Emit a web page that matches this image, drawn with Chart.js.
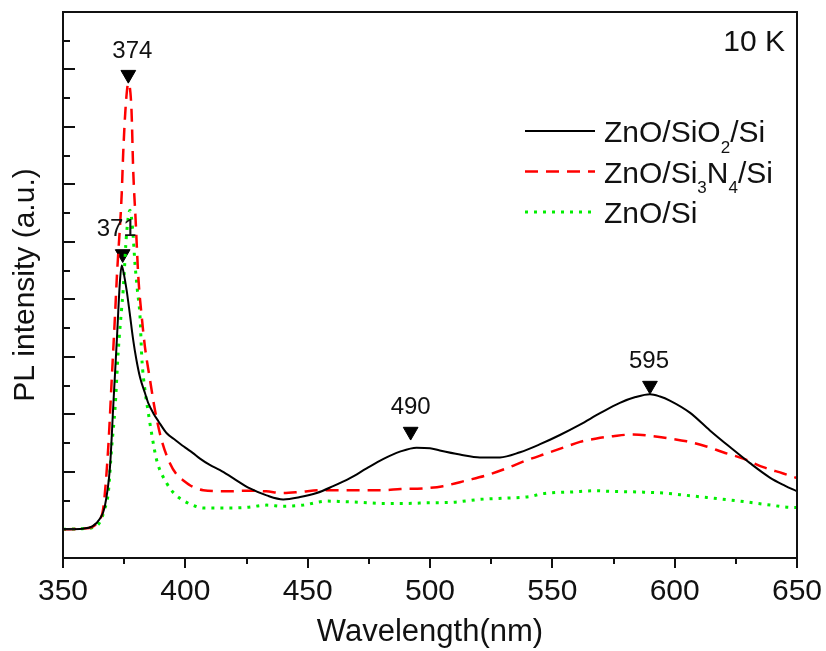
<!DOCTYPE html>
<html>
<head>
<meta charset="utf-8">
<title>PL spectra at 10 K</title>
<script src="https://cdn.jsdelivr.net/npm/chart.js@4.4.1/dist/chart.umd.min.js"></script>
<style>
    body { margin: 0; background: #fff; }
    #wrap { width: 826px; height: 651px; position: relative; }
</style>
</head>
<body>
<div id="wrap"><canvas id="plChart"></canvas></div>
<script>
// Axis ticks
const xTicks = [350, 400, 450, 500, 550, 600, 650];
const xTitle = 'Wavelength(nm)';
const yTitle = 'PL intensity (a.u.)';
const tempLabel = '10 K';

// Series names (subscripts as unicode)
const seriesNames = ['ZnO/SiO\u2082/Si', 'ZnO/Si\u2083N\u2084/Si', 'ZnO/Si'];

// ZnO/SiO2/Si
const wlSiO2 = [350, 358, 362, 365, 367, 369.2, 370.6, 372, 373.3, 374, 374.6, 376, 377.3, 378.7, 380, 381.5, 383.5, 385, 386.9, 389,
    392.4, 396, 400, 403, 406, 410, 414.2, 419.5, 426.4, 433.2, 440, 446.9, 453.7, 460.4, 467.3, 474.1, 480.8, 487.7, 494.5, 500,
    504, 512.2, 520.4, 528.6, 536.8, 545, 553.1, 561.3, 569.5, 577.6, 584, 589.9, 594, 598, 606.2, 614.4, 622.6, 630.8, 638.9, 645, 650];
const intSiO2 = [0.00, 0.01, 0.05, 0.18, 0.38, 1.08, 2.19, 3.29, 4.33, 4.59, 4.50, 4.16, 3.75, 3.29, 2.95, 2.64, 2.37, 2.18, 2.02, 1.88,
    1.67, 1.55, 1.42, 1.33, 1.23, 1.12, 1.03, 0.89, 0.71, 0.59, 0.52, 0.56, 0.63, 0.75, 0.89, 1.06, 1.22, 1.35, 1.42, 1.41,
    1.37, 1.30, 1.25, 1.25, 1.34, 1.48, 1.64, 1.82, 2.02, 2.20, 2.30, 2.35, 2.31, 2.24, 2.03, 1.72, 1.43, 1.15, 0.90, 0.76, 0.66];

// ZnO/Si3N4/Si
const wlSi3N4 = [350, 358, 362, 364.5, 366.5, 368.5, 369.9, 371.3, 372, 374, 374.6, 375.7, 376.7, 378, 378.7, 379.7, 380.8, 382.2, 383.5, 385.6,
    387.6, 390.3, 393.7, 396.5, 399.2, 403, 407.3, 416.9, 425, 433, 440, 447, 455, 463, 472, 480.8, 488, 497, 505.3, 515,
    523.2, 531.3, 539.5, 547.7, 555.8, 561.3, 568.1, 574.9, 583.1, 591.3, 598, 604.9, 613, 619.8, 628, 636.2, 644.4, 650];
const intSi3N4 = [0.00, 0.01, 0.04, 0.15, 0.38, 1.43, 2.59, 3.76, 4.38, 5.84, 6.54, 7.41, 7.76, 7.29, 6.24, 5.37, 4.38, 3.69, 3.17, 2.59,
    2.07, 1.55, 1.15, 0.95, 0.85, 0.74, 0.68, 0.66, 0.67, 0.66, 0.63, 0.65, 0.68, 0.68, 0.68, 0.68, 0.70, 0.71, 0.75, 0.85,
    0.94, 1.06, 1.20, 1.32, 1.44, 1.52, 1.58, 1.62, 1.65, 1.62, 1.58, 1.53, 1.44, 1.34, 1.23, 1.08, 0.97, 0.89];

// ZnO/Si
const wlSi = [350, 358, 362, 365, 367, 368.5, 369.9, 371.3, 372.6, 374, 374.6, 376, 377.4, 378.5, 379.4, 380.4, 381.5, 382.2, 383.5, 384.9,
    386.2, 388.3, 392.4, 395.5, 399.2, 403, 407.3, 417, 425, 433.2, 440, 448.2, 457.7, 465, 471.4, 480.8, 490.4, 499, 509.5, 520.4,
    529.9, 540.8, 546.3, 558.5, 568.1, 573.5, 584.4, 595.3, 604.9, 615.8, 626.7, 637.6, 648.5, 650];
const intSi = [0.00, 0.01, 0.03, 0.12, 0.35, 0.63, 1.43, 2.12, 3.11, 3.86, 4.16, 5.15, 5.55, 5.20, 4.63, 4.16, 3.69, 2.99, 2.42, 2.02,
    1.67, 1.20, 0.80, 0.62, 0.50, 0.42, 0.37, 0.37, 0.38, 0.42, 0.40, 0.42, 0.49, 0.48, 0.47, 0.45, 0.45, 0.46, 0.47, 0.52,
    0.54, 0.57, 0.62, 0.65, 0.67, 0.66, 0.65, 0.63, 0.59, 0.54, 0.49, 0.43, 0.38, 0.38];

// Peak markers
const peakWl = [376.7, 374.4, 492.1, 589.9];
const peakInt = [7.91, 4.79, 1.70, 2.50];
const peakLabels = ['374', '371', '490', '595'];

const FONT = "'Liberation Sans', Arial, sans-serif";

document.addEventListener('DOMContentLoaded', function() {
    Chart.defaults.font.family = FONT;
    Chart.defaults.color = '#111';
    buildChart();
});

function toPoints(xs, ys) {
    return xs.map((x, i) => ({ x: x, y: ys[i] }));
}

// Draw text with unicode subscript digits rendered as small lowered digits
function drawRichText(ctx, text, x, y, size) {
    let cx = x;
    let run = '';
    let sub = false;
    const flush = function() {
        if (!run) return;
        ctx.font = (sub ? Math.round(size * 0.58) : size) + 'px ' + FONT;
        ctx.fillText(run, cx, sub ? y + size * 0.36 : y);
        cx += ctx.measureText(run).width;
        run = '';
    };
    for (const ch of text) {
        const code = ch.charCodeAt(0);
        const isSub = code >= 0x2080 && code <= 0x2089;
        if (isSub !== sub) { flush(); sub = isSub; }
        run += isSub ? String(code - 0x2080) : ch;
    }
    flush();
}

// Frame and tick marks
const framePlugin = {
    id: 'frame',
    afterDatasetsDraw(chart) {
        const { ctx, chartArea: a, scales: { x, y } } = chart;
        ctx.save();
        ctx.strokeStyle = '#111';
        ctx.lineWidth = 2;
        ctx.strokeRect(a.left, a.top, a.right - a.left, a.bottom - a.top);

        ctx.beginPath();
        // x ticks point outward
        for (let v = x.min; v <= x.max; v += 25) {
            const px = Math.round(x.getPixelForValue(v));
            const len = v % 50 === 0 ? 10 : 6;
            ctx.moveTo(px, a.bottom);
            ctx.lineTo(px, a.bottom + len);
        }
        // y ticks point inward
        for (let v = y.min; v <= y.max + 0.01; v += 0.5) {
            const py = Math.round(y.getPixelForValue(v));
            const len = Math.abs(v - Math.round(v)) < 0.01 ? 12 : 7;
            ctx.moveTo(a.left, py);
            ctx.lineTo(a.left + len, py);
        }
        ctx.stroke();
        ctx.restore();
    }
};

// Peak labels, temperature and legend
const notesPlugin = {
    id: 'notes',
    afterDraw(chart) {
        const { ctx, chartArea: a } = chart;
        const meta = chart.getDatasetMeta(3);
        const offsets = [[4, -23], [-6, -25], [0, -24], [-1, -24]];
        ctx.save();
        ctx.fillStyle = '#111';
        ctx.textAlign = 'center';
        ctx.textBaseline = 'middle';
        ctx.font = '24px ' + FONT;
        meta.data.forEach((pt, i) => {
            ctx.fillText(peakLabels[i], pt.x + offsets[i][0], pt.y + offsets[i][1]);
        });

        ctx.textAlign = 'right';
        ctx.font = '30px ' + FONT;
        ctx.fillText(tempLabel, a.right - 12, a.top + 31);

        // Legend
        const styles = chart.data.datasets.slice(0, 3);
        ctx.textAlign = 'left';
        ctx.textBaseline = 'alphabetic';
        styles.forEach((ds, i) => {
            const rowY = a.top + 119 + i * 40.5;
            ctx.save();
            ctx.strokeStyle = ds.borderColor;
            ctx.lineWidth = ds.borderWidth;
            ctx.setLineDash(ds.borderDash || []);
            ctx.beginPath();
            ctx.moveTo(a.right - 272, rowY);
            ctx.lineTo(a.right - 202, rowY);
            ctx.stroke();
            ctx.restore();
            drawRichText(ctx, seriesNames[i], a.right - 193, rowY + 11, 30);
        });
        ctx.restore();
    }
};

function buildChart() {
    const ctx = document.getElementById('plChart').getContext('2d');
    window.plChart = new Chart(ctx, {
        type: 'scatter',
        data: {
            datasets: [
                {
                    label: seriesNames[0],
                    data: toPoints(wlSiO2, intSiO2),
                    borderColor: '#000000',
                    borderWidth: 2
                },
                {
                    label: seriesNames[1],
                    data: toPoints(wlSi3N4, intSi3N4),
                    borderColor: '#ff0000',
                    borderWidth: 2.5,
                    borderDash: [13, 8]
                },
                {
                    label: seriesNames[2],
                    data: toPoints(wlSi, intSi),
                    borderColor: '#00ee00',
                    borderWidth: 3,
                    borderDash: [3, 6]
                },
                {
                    label: 'peaks',
                    data: toPoints(peakWl, peakInt),
                    showLine: false,
                    pointStyle: 'triangle',
                    rotation: 180,
                    pointRadius: 8.5,
                    backgroundColor: '#000',
                    borderColor: '#000',
                    borderWidth: 1
                }
            ].map((ds, i) => i < 3 ? Object.assign({
                showLine: true,
                pointRadius: 0,
                cubicInterpolationMode: 'monotone',
                fill: false
            }, ds) : ds)
        },
        options: {
            responsive: true,
            maintainAspectRatio: false,
            animation: false,
            layout: { padding: { top: 12, right: 29, left: 0, bottom: 0 } },
            plugins: {
                legend: { display: false },
                tooltip: { enabled: false }
            },
            scales: {
                x: {
                    type: 'linear',
                    min: 350,
                    max: 650,
                    afterBuildTicks: function(scale) {
                        scale.ticks = xTicks.map(v => ({ value: v }));
                    },
                    afterFit: function(scale) {
                        scale.height = 93;
                        scale.paddingLeft = 0;
                        scale.paddingRight = 0;
                    },
                    grid: { display: false },
                    border: { display: false },
                    ticks: { font: { size: 30 }, color: '#111', padding: 8, maxRotation: 0 },
                    title: { display: true, text: xTitle, font: { size: 31 }, color: '#111', padding: { top: 0, bottom: 0 } }
                },
                y: {
                    min: -0.5,
                    max: 9,
                    afterFit: function(scale) {
                        scale.width = 63;
                        scale.paddingTop = 0;
                        scale.paddingBottom = 0;
                    },
                    grid: { display: false },
                    border: { display: false },
                    ticks: { display: false },
                    title: { display: true, text: yTitle, font: { size: 30 }, color: '#111', padding: { top: 8, bottom: 0 } }
                }
            }
        },
        plugins: [framePlugin, notesPlugin]
    });
}
</script>
</body>
</html>
